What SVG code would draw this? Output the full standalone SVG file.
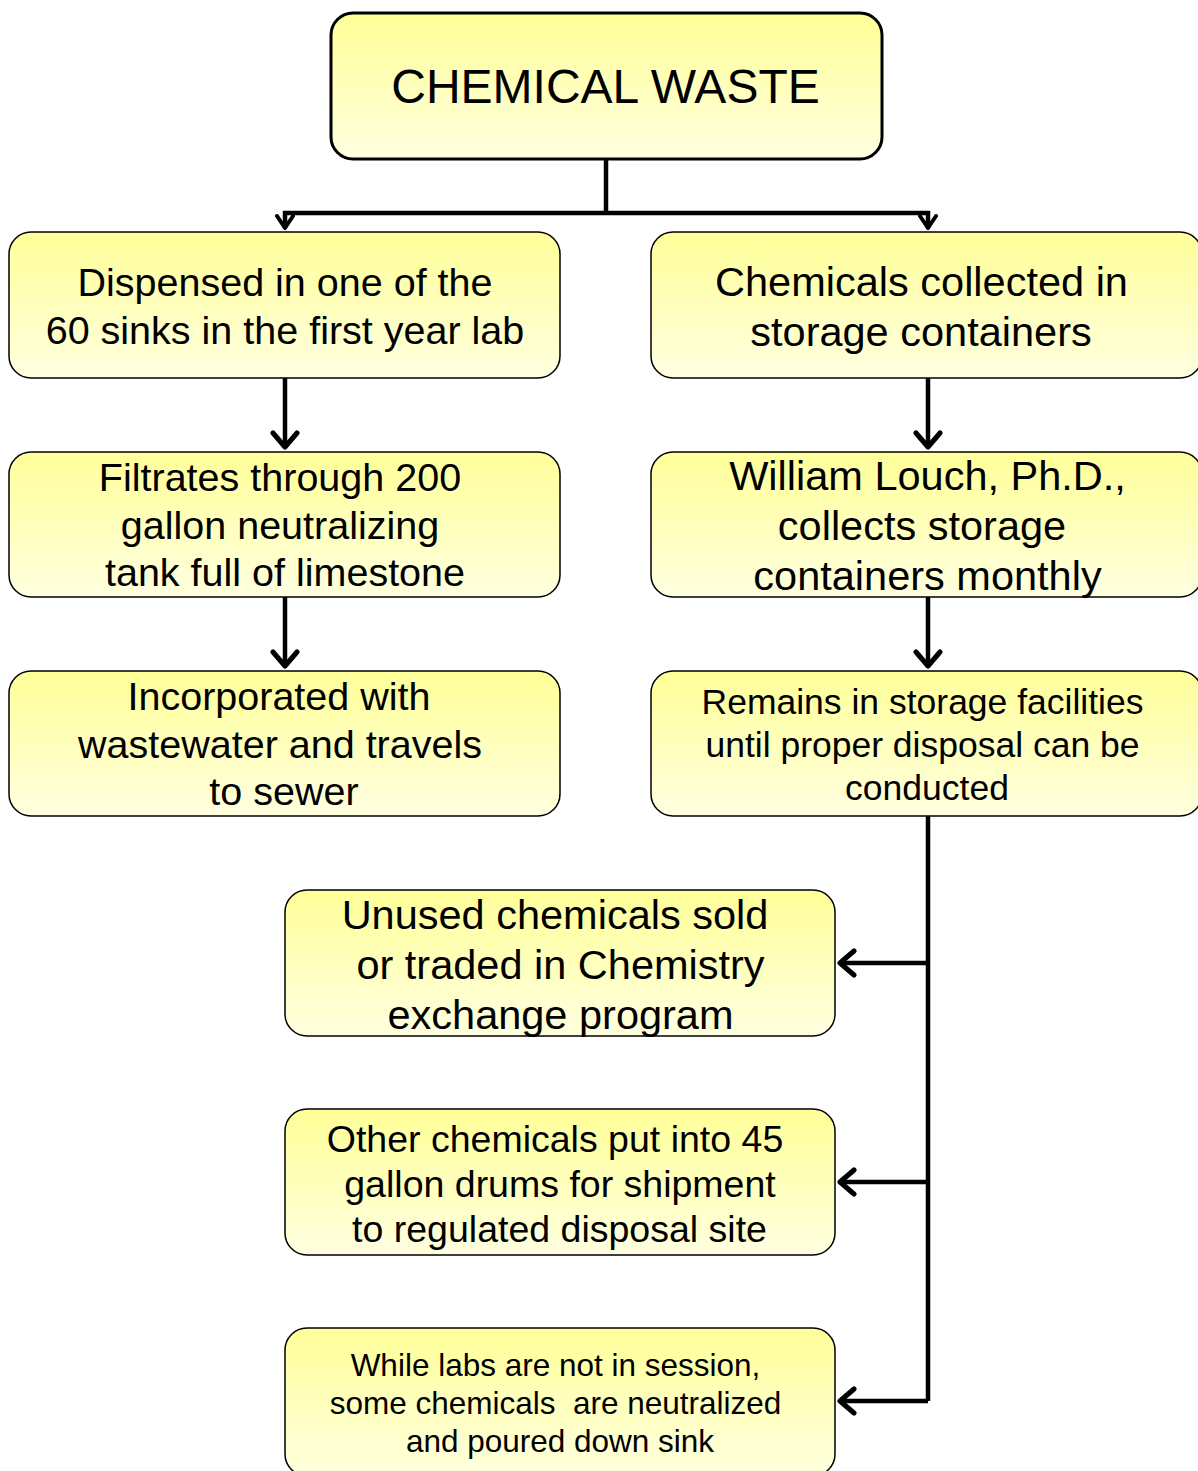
<svg xmlns="http://www.w3.org/2000/svg" width="1198" height="1471" viewBox="0 0 1198 1471">
<defs>
<linearGradient id="g" x1="0" y1="0" x2="0" y2="1">
<stop offset="0" stop-color="#FFFF99"/>
<stop offset="1" stop-color="#FFFFE0"/>
</linearGradient>
<marker id="ah" viewBox="0 0 20 20" refX="18" refY="10" markerWidth="20" markerHeight="20" markerUnits="userSpaceOnUse" orient="auto">
<path d="M6,2 L18,10 L6,18" fill="none" stroke="#000" stroke-width="4" stroke-linecap="round" stroke-linejoin="round"/>
</marker>
<marker id="ah2" viewBox="0 0 30 30" refX="27" refY="15" markerWidth="30" markerHeight="30" markerUnits="userSpaceOnUse" orient="auto">
<path d="M13,3 L27,15 L13,27" fill="none" stroke="#000" stroke-width="5" stroke-linecap="round" stroke-linejoin="round"/>
</marker>
</defs>
<style>
.box{fill:url(#g);stroke:#000;stroke-width:1.5}
.top{fill:url(#g);stroke:#000;stroke-width:3}
text{font-family:"Liberation Sans",Arial,sans-serif;fill:#000;text-anchor:middle}
.c{fill:none;stroke:#000;stroke-width:4.5}
.l{font-size:39.5px}
.r{font-size:41.5px}
</style>
<g id="connectors">
<path class="c" d="M606,159 V213"/>
<path class="c" d="M606,213 H285 V228" marker-end="url(#ah)"/>
<path class="c" d="M606,213 H928 V228" marker-end="url(#ah)"/>
<path class="c" d="M285,378 V447" marker-end="url(#ah2)"/>
<path class="c" d="M285,597 V666" marker-end="url(#ah2)"/>
<path class="c" d="M928,378 V447" marker-end="url(#ah2)"/>
<path class="c" d="M928,597 V666" marker-end="url(#ah2)"/>
<path class="c" d="M928,816 V1401"/>
<path class="c" d="M928,963 H840" marker-end="url(#ah2)"/>
<path class="c" d="M928,1182 H840" marker-end="url(#ah2)"/>
<path class="c" d="M928,1401 H840" marker-end="url(#ah2)"/>
</g>
<g id="n0">
<rect class="top" x="331" y="13" width="551" height="146" rx="22"/>
<text x="605.5" y="103" font-size="48">CHEMICAL WASTE</text>
</g>
<g id="n1">
<rect class="box" x="9" y="232" width="551" height="146" rx="22"/>
<text class="l" x="285" y="296">Dispensed in one of the</text>
<text class="l" x="285" y="344">60 sinks in the first year lab</text>
</g>
<g id="n2">
<rect class="box" x="9" y="452" width="551" height="145" rx="22"/>
<text class="l" x="280" y="491">Filtrates through 200</text>
<text class="l" x="280" y="539">gallon neutralizing</text>
<text class="l" x="285" y="586">tank full of limestone</text>
</g>
<g id="n3">
<rect class="box" x="9" y="671" width="551" height="145" rx="22"/>
<text class="l" x="279" y="710">Incorporated with</text>
<text class="l" x="280" y="758">wastewater and travels</text>
<text class="l" x="284" y="805">to sewer</text>
</g>
<g id="n4">
<rect class="box" x="651" y="232" width="551" height="146" rx="22"/>
<text class="r" x="921.5" y="296">Chemicals collected in</text>
<text class="r" x="921" y="346">storage containers</text>
</g>
<g id="n5">
<rect class="box" x="651" y="452" width="551" height="145" rx="22"/>
<text class="r" x="927.5" y="490">William Louch, Ph.D.,</text>
<text class="r" x="922" y="540">collects storage</text>
<text class="r" x="927.5" y="590">containers monthly</text>
</g>
<g id="n6">
<rect class="box" x="651" y="671" width="551" height="145" rx="22"/>
<text x="922.5" y="714" font-size="35.5">Remains in storage facilities</text>
<text x="922.5" y="757" font-size="35.5">until proper disposal can be</text>
<text x="927" y="800" font-size="35.5">conducted</text>
</g>
<g id="n7">
<rect class="box" x="285" y="890" width="550" height="146" rx="22"/>
<text class="r" x="555" y="929">Unused chemicals sold</text>
<text class="r" x="560.5" y="979">or traded in Chemistry</text>
<text class="r" x="560.5" y="1029">exchange program</text>
</g>
<g id="n8">
<rect class="box" x="285" y="1109" width="550" height="146" rx="22"/>
<text x="555" y="1152" font-size="37.5">Other chemicals put into 45</text>
<text x="560" y="1197" font-size="37.5">gallon drums for shipment</text>
<text x="559.5" y="1242" font-size="37.5">to regulated disposal site</text>
</g>
<g id="n9">
<rect class="box" x="285" y="1328" width="550" height="148" rx="22"/>
<text x="555.5" y="1376" font-size="31.5">While labs are not in session,</text>
<text x="555.5" y="1414" font-size="31.5" xml:space="preserve">some chemicals  are neutralized</text>
<text x="560" y="1452" font-size="31.5">and poured down sink</text>
</g>
</svg>
